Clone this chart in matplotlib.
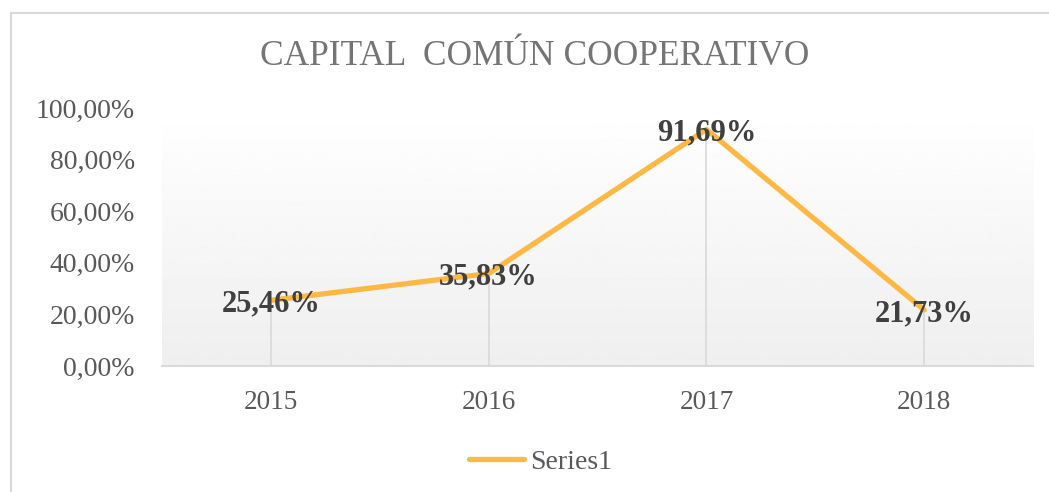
import numpy as np
import matplotlib
matplotlib.use('Agg')
import matplotlib.pyplot as plt
from matplotlib.lines import Line2D

plt.rcParams['font.family'] = ['Liberation Serif', 'DejaVu Serif']

years = ['2015', '2016', '2017', '2018']
values = [25.46, 35.83, 91.69, 21.73]
labels = ['25,46%', '35,83%', '91,69%', '21,73%']
yticks = [0, 20, 40, 60, 80, 100]
ytick_labels = ['0,00%', '20,00%', '40,00%', '60,00%', '80,00%', '100,00%']

line_color = '#FFB843'
grey_text = '#595959'

fig = plt.figure(figsize=(10.49, 4.92), dpi=100)
ax = fig.add_axes([0.1544, 0.2561, 0.8304, 0.5244])

x = np.arange(len(years))
ax.set_xlim(-0.5, len(years) - 0.5)
ax.set_ylim(0, 100)

# background gradient, white at top to light grey at bottom
grad = np.linspace(1.0, 0.935, 256).reshape(-1, 1)
ax.imshow(grad, cmap='gray', vmin=0, vmax=1, aspect='auto',
          extent=(-0.5, len(years) - 0.5, 0, 100), origin='upper', zorder=0)

# drop lines
ax.vlines(x, 0, values, color='#D9D9D9', linewidth=1.2, zorder=1)

ax.plot(x, values, color=line_color, linewidth=3.8, solid_capstyle='round',
        label='Series1', zorder=2)

for xi, v, lab in zip(x, values, labels):
    ax.text(xi, v, lab, ha='center', va='center_baseline', fontsize=22,
            fontweight='bold', color='#404040', zorder=3)

ax.set_xticks(x)
ax.set_xticklabels(years)
ax.set_yticks(yticks)
ax.set_yticklabels(ytick_labels)
ax.tick_params(axis='x', length=0, pad=17, labelsize=19.6, labelcolor=grey_text)
ax.tick_params(axis='y', length=0, pad=19.5, labelsize=20, labelcolor=grey_text)

for s in ['top', 'right', 'left']:
    ax.spines[s].set_visible(False)
ax.spines['bottom'].set_color('#D9D9D9')
ax.spines['bottom'].set_linewidth(1.5)

fig.text(0.510, 0.886, 'CAPITAL  COMÚN COOPERATIVO', ha='center', va='center',
         fontsize=25.5, color='#757575')

fig.legend(loc='center', bbox_to_anchor=(0.515, 0.061), frameon=False,
           fontsize=20, labelcolor=grey_text, handlelength=2.0,
           handletextpad=0.2)

# chart border (only top and left visible in the crop)
fig.add_artist(Line2D([11 / 1049, 11 / 1049], [0, 1 - 13 / 492],
                      transform=fig.transFigure, color='#D9D9D9', linewidth=1.5))
fig.add_artist(Line2D([11 / 1049, 1], [1 - 13 / 492, 1 - 13 / 492],
                      transform=fig.transFigure, color='#D9D9D9', linewidth=1.5))

fig.savefig('out.png', dpi=100, facecolor='white')
